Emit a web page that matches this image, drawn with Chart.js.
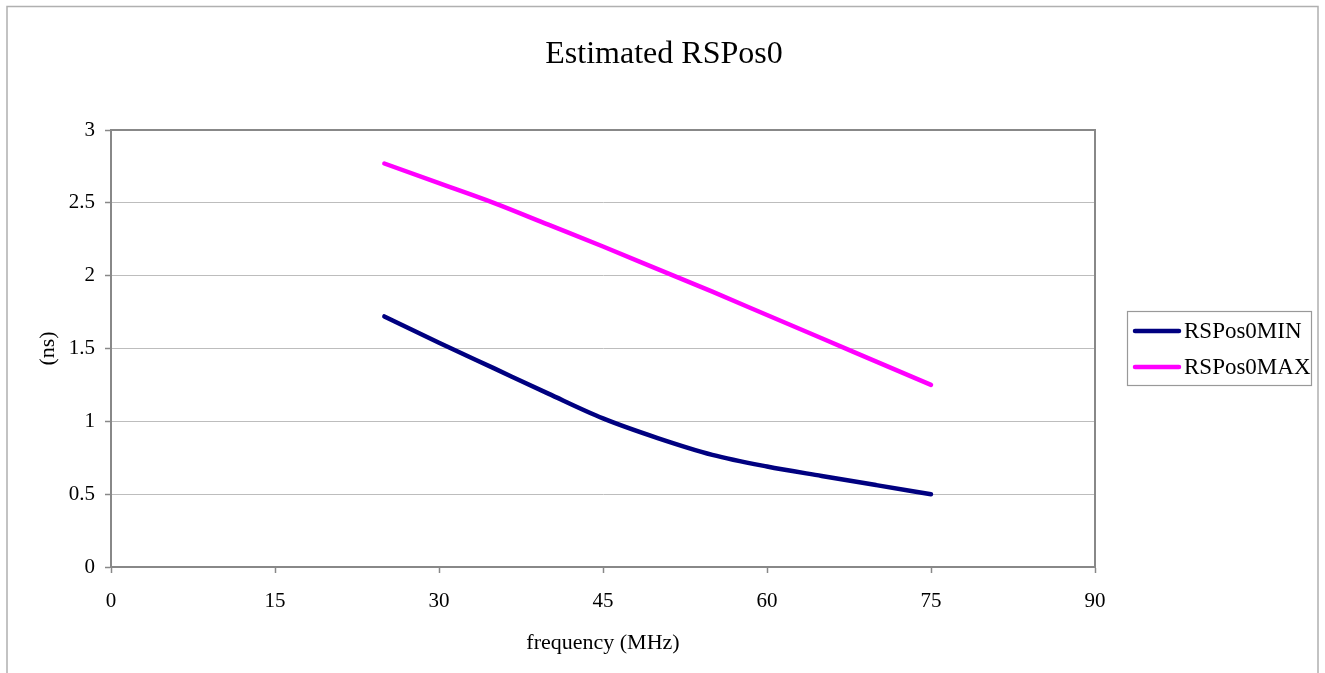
<!DOCTYPE html>
<html>
<head>
<meta charset="utf-8">
<script src="https://cdn.jsdelivr.net/npm/chart.js@4/dist/chart.umd.min.js"></script>
<style>
  html, body { margin: 0; padding: 0; background: #ffffff; }
  #wrap { width: 1325px; height: 673px; position: relative; }
</style>
</head>
<body>
<div id="wrap"><canvas id="c" width="1325" height="673"></canvas></div>
<script>
// ---- data ----
const frequencies = [25, 30, 35, 40, 45, 50, 55, 60, 65, 70, 75];
const rsPos0Min   = [1.72, 1.54, 1.365, 1.19, 1.02, 0.885, 0.77, 0.69, 0.625, 0.562, 0.50];
const rsPos0Max   = [2.77, 2.635, 2.50, 2.35, 2.20, 2.045, 1.89, 1.73, 1.57, 1.41, 1.25];
const seriesLabels = ['RSPos0MIN', 'RSPos0MAX'];
const xTicks = [0, 15, 30, 45, 60, 75, 90];
const yTicks = [0, 0.5, 1, 1.5, 2, 2.5, 3];
const chartTitle = 'Estimated RSPos0';
const xTitle = 'frequency (MHz)';
const yTitle = '(ns)';

const FONT = '"Liberation Serif", "Times New Roman", serif';
Chart.defaults.font.family = FONT;
Chart.defaults.color = '#000000';

const toPoints = (xs, ys) => xs.map((x, i) => ({ x: x, y: ys[i] }));

const decor = {
  id: 'decor',
  afterDraw(chart) {
    const ctx = chart.ctx;
    const a = chart.chartArea;
    ctx.save();
    // outer frame
    ctx.strokeStyle = '#b0b0b0';
    ctx.lineWidth = 1.5;
    ctx.beginPath();
    ctx.moveTo(7, 690); ctx.lineTo(7, 6.5); ctx.lineTo(1318, 6.5); ctx.lineTo(1318, 690);
    ctx.stroke();
    // plot area top / right border
    ctx.strokeStyle = '#888888';
    ctx.lineWidth = 2;
    ctx.beginPath();
    ctx.moveTo(a.left, a.top); ctx.lineTo(a.right, a.top); ctx.lineTo(a.right, a.bottom);
    ctx.stroke();
    // title
    ctx.fillStyle = '#000';
    ctx.font = '32px ' + FONT;
    ctx.textAlign = 'center';
    ctx.textBaseline = 'middle';
    ctx.fillText(chartTitle, 664, 55);
    // legend
    const lx = 1127, ly = 311, lw = 184, lh = 74;
    ctx.strokeStyle = '#999999';
    ctx.lineWidth = 1.2;
    ctx.strokeRect(lx + 0.5, ly + 0.5, lw, lh);
    ctx.font = '23px ' + FONT;
    ctx.textAlign = 'left';
    const rows = [331, 367];
    chart.data.datasets.forEach((ds, i) => {
      const y = rows[i];
      ctx.strokeStyle = ds.borderColor;
      ctx.lineWidth = 4.5;
      ctx.lineCap = 'round';
      ctx.beginPath(); ctx.moveTo(1135, y); ctx.lineTo(1179, y); ctx.stroke();
      ctx.fillStyle = '#000';
      ctx.fillText(ds.label, 1184, y + 1);
    });
    ctx.restore();
  }
};

new Chart(document.getElementById('c'), {
  type: 'line',
  data: {
    datasets: [
      { label: seriesLabels[0], data: toPoints(frequencies, rsPos0Min), borderColor: '#000080',
        borderWidth: 4.5, pointRadius: 0, fill: false, cubicInterpolationMode: 'monotone', borderCapStyle: 'round' },
      { label: seriesLabels[1], data: toPoints(frequencies, rsPos0Max), borderColor: '#ff00ff',
        borderWidth: 4.5, pointRadius: 0, fill: false, cubicInterpolationMode: 'monotone', borderCapStyle: 'round' }
    ]
  },
  options: {
    responsive: false,
    animation: false,
    layout: { padding: { left: 0, top: 130, right: 230, bottom: 0 } },
    plugins: { legend: { display: false }, title: { display: false }, tooltip: { enabled: false } },
    scales: {
      x: {
        type: 'linear', min: xTicks[0], max: xTicks[xTicks.length - 1],
        afterBuildTicks: s => { s.ticks = xTicks.map(v => ({ value: v })); },
        afterFit: s => { s.height = 106; },
        ticks: { font: { size: 21 }, padding: 16, color: '#000', maxRotation: 0 },
        grid: { drawOnChartArea: false, drawTicks: true, tickLength: 6, tickColor: '#888888', tickWidth: 1.5 },
        border: { color: '#888888', width: 2 },
        title: { display: true, text: xTitle, font: { size: 22 }, padding: { top: 0, bottom: 17 }, color: '#000' }
      },
      y: {
        type: 'linear', min: yTicks[0], max: yTicks[yTicks.length - 1],
        afterBuildTicks: s => { s.ticks = yTicks.map(v => ({ value: v })); },
        afterFit: s => { s.width = 111; },
        ticks: { font: { size: 21 }, padding: 10, color: '#000', callback: v => String(v) },
        grid: { color: '#bdbdbd', lineWidth: 1, drawTicks: true, tickLength: 6, tickColor: '#888888', tickWidth: 1.5 },
        border: { color: '#888888', width: 2 },
        title: { display: true, text: yTitle, font: { size: 22 }, padding: { top: 35, bottom: 0 }, color: '#000' }
      }
    }
  },
  plugins: [decor]
});
</script>
</body>
</html>
